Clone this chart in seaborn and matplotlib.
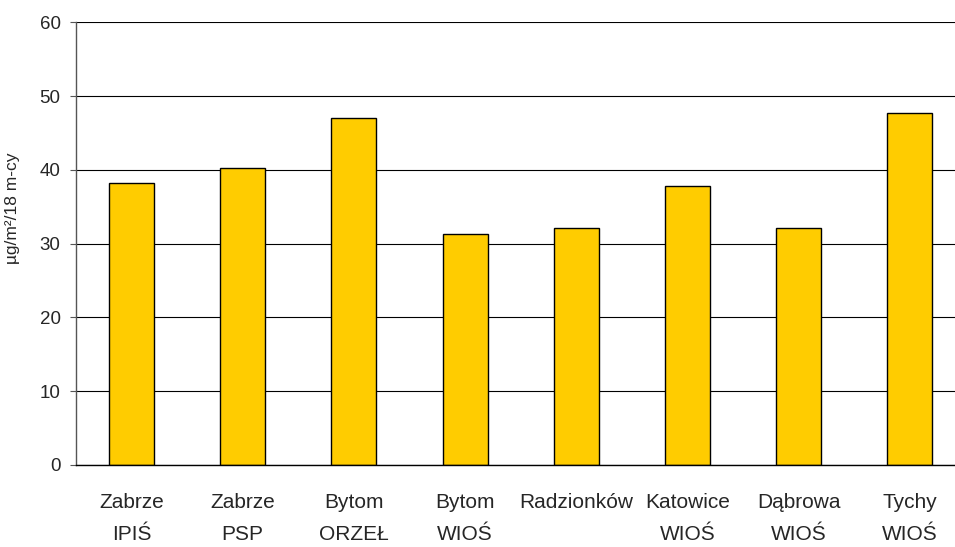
import matplotlib
matplotlib.use("Agg")
import matplotlib.pyplot as plt
import seaborn as sns
import pandas as pd

# Station names (two-line labels) and measured deposition values
stations = ["Zabrze\nIPIŚ", "Zabrze\nPSP", "Bytom\nORZEŁ", "Bytom\nWIOŚ",
            "Radzionków", "Katowice\nWIOŚ", "Dąbrowa\nWIOŚ", "Tychy\nWIOŚ"]
values = [38.2, 40.2, 47.0, 31.3, 32.1, 37.8, 32.1, 47.7]
y_ticks = [0, 10, 20, 30, 40, 50, 60]
y_label = "µg/m²/18 m-cy"

sns.set_style("white")
plt.rcParams["font.family"] = ["Liberation Sans", "DejaVu Sans"]

df = pd.DataFrame({"station": stations, "value": values})

fig = plt.figure(figsize=(9.55, 5.47), dpi=100)
ax = fig.add_axes([0.0795, 0.150, 0.9315, 0.809])

ax.yaxis.grid(True, color="black", linewidth=0.8)
ax.set_axisbelow(True)

sns.barplot(data=df, x="station", y="value", color="#FFCC00",
            edgecolor="black", linewidth=1.0, width=0.405,
            saturation=1, ax=ax)

ax.set_ylim(0, 60)
ax.set_yticks(y_ticks)
ax.set_xlim(-0.5, len(stations) - 0.5)
ax.set_xlabel("")
ax.set_ylabel(y_label, fontsize=12.5)
ax.yaxis.set_label_coords(-0.063, 0.58)

ax.tick_params(axis="y", length=4, width=0.8, color="#555555",
               labelsize=13.5, pad=7, left=True)
ax.tick_params(axis="x", length=0, labelsize=15, pad=20)
for lbl in ax.get_xticklabels():
    lbl.set_linespacing(1.9)

for side in ["top", "right"]:
    ax.spines[side].set_visible(False)
ax.spines["left"].set_color("#555555")
ax.spines["left"].set_linewidth(1.0)
ax.spines["bottom"].set_color("black")
ax.spines["bottom"].set_linewidth(1.0)

fig.savefig("out.png", dpi=100)
